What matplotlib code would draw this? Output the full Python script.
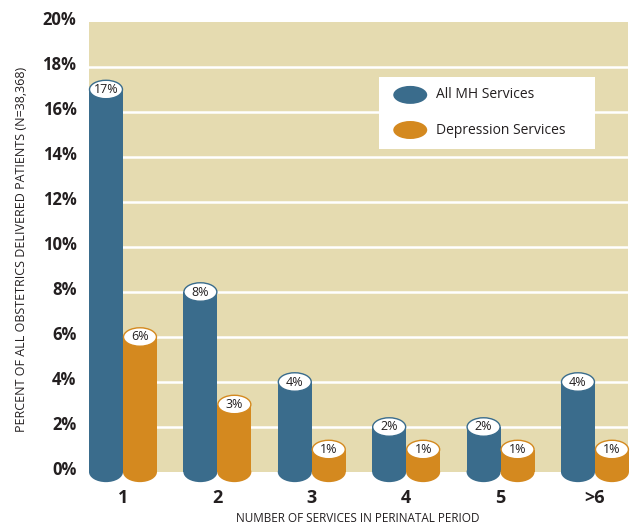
import matplotlib.pyplot as plt
import matplotlib.transforms as mtransforms
import numpy as np
from matplotlib.patches import Ellipse, Rectangle

# --- Data ---
categories = ['1', '2', '3', '4', '5', '>6']
all_mh = [17, 8, 4, 2, 2, 4]
depression = [6, 3, 1, 1, 1, 1]
series_names = ['All MH Services', 'Depression Services']
y_ticks = [0, 2, 4, 6, 8, 10, 12, 14, 16, 18, 20]

# --- Style ---
blue = '#3a6c8c'
orange = '#d4891f'
beige = '#e5dbb0'
font = ['Open Sans', 'DejaVu Sans']
plt.rcParams['font.family'] = font

bar_w = 0.36
ell_h = 0.82  # ellipse height in data units (%)

fig = plt.figure(figsize=(6.38, 5.25), dpi=100)
ax = fig.add_axes([89 / 638, 1 - 472 / 525, 539 / 638, 450 / 525])
ax.set_facecolor(beige)
for s in ax.spines.values():
    s.set_visible(False)

x = np.arange(len(categories))
ax.set_xlim(-0.36, len(categories) - 1 + 0.35)
ax.set_ylim(0, 20)

for yv in y_ticks[1:-1]:
    ax.axhline(yv, color='white', lw=1.8, zorder=1)


def cylinder(xc, h, color):
    ax.add_patch(Rectangle((xc - bar_w / 2, 0), bar_w, h, facecolor=color,
                           edgecolor='none', zorder=3, clip_on=False))
    ax.add_patch(Ellipse((xc, 0), bar_w, ell_h * 1.1, facecolor=color,
                         edgecolor='none', zorder=3, clip_on=False))
    ax.add_patch(Ellipse((xc, h), bar_w * 0.97, ell_h, facecolor='white',
                         edgecolor=color, lw=1.0, zorder=4, clip_on=False))
    ax.text(xc, h, f'{h}%', ha='center', va='center', fontsize=9,
            color='#231f20', zorder=5)


for i in range(len(categories)):
    cylinder(x[i] - bar_w / 2, all_mh[i], blue)
    cylinder(x[i] + bar_w / 2, depression[i], orange)

# --- Axes labels ---
ax.set_yticks(y_ticks)
ax.set_yticklabels([f'{v}%' for v in y_ticks], fontsize=12, fontweight='bold',
                   color='#231f20')
ax.tick_params(axis='y', length=0, pad=9)
off = mtransforms.ScaledTranslation(0, 4 / 100, fig.dpi_scale_trans)
for lab in ax.get_yticklabels():
    lab.set_transform(lab.get_transform() + off)

ax.set_xticks(x)
ax.set_xticklabels(categories, fontsize=13, fontweight='bold', color='#231f20')
ax.tick_params(axis='x', length=0, pad=12)

fig.text(358 / 638, 1 - 518 / 525, 'NUMBER OF SERVICES IN PERINATAL PERIOD',
         fontsize=8.5, color='#231f20', ha='center', va='center')
fig.text(22 / 638, 1 - 249 / 525,
         'PERCENT OF ALL OBSTETRICS DELIVERED PATIENTS (N=38,368)',
         fontsize=9, color='#231f20', ha='center', va='center', rotation=90)

# --- Legend ---
ax.add_patch(Rectangle((0.538, 0.718), 0.401, 0.160, transform=ax.transAxes,
                       facecolor='white', edgecolor='none', zorder=6))
for yy, col, name in zip([0.838, 0.760], [blue, orange], series_names):
    ax.add_patch(Ellipse((0.596, yy), 0.063, 0.040, transform=ax.transAxes,
                         facecolor=col, edgecolor='none', zorder=7))
    ax.text(0.644, yy, name, transform=ax.transAxes, fontsize=10,
            va='center', ha='left', color='#231f20', zorder=7)

fig.savefig('out.png', dpi=100)
